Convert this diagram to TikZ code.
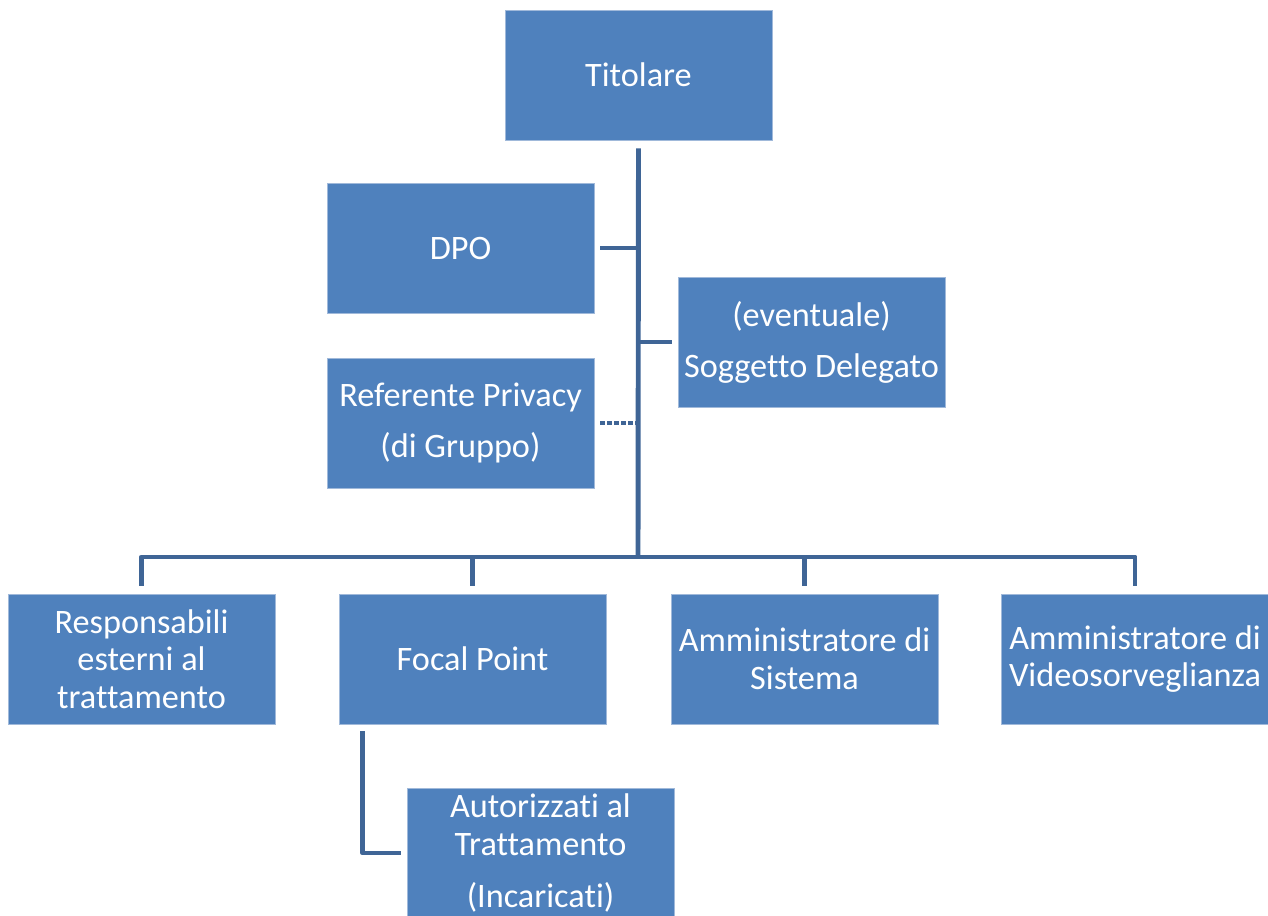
\documentclass[tikz,border=0pt]{standalone}
\usepackage{fontspec}
\setmainfont{Carlito}[Ligatures={NoCommon}]
\usetikzlibrary{positioning}
\definecolor{boxfill}{RGB}{79,129,189}
\definecolor{boxline}{RGB}{160,185,218}
\definecolor{linkcol}{RGB}{63,101,150}
\tikzset{every role/.style={rectangle, fill=boxfill, draw=boxline, line width=0.4pt,
    minimum width=5.34cm, minimum height=2.6cm, inner sep=0pt, align=center,
    text=white, font=\fontsize{19.5}{21.5}\selectfont},
  link/.style={draw=linkcol, line width=2.8pt, line join=round}}

\begin{document}
\begin{tikzpicture}[x=0.02cm, y=-0.02cm] % one unit = one pixel of the reference
  \useasboundingbox (0,0) rectangle (1268,916);
  \node[every role] (tit) at (638.5,75) {Titolare};
  \node[every role] (dpo) at (460.5,248) {DPO};
  \node[every role] (sog) at (811.5,342) {(eventuale)\\[7.5pt] Soggetto Delegato};
  \node[every role] (ref) at (460.5,423) {Referente Privacy\\[7.5pt] (di Gruppo)};
  % bottom row
  \node[every role] (resp) at (141.5,659) {Responsabili\\ esterni al\\ trattamento};
  \node[every role] (foc) at (472.5,659) {Focal Point};
  \node[every role] (asis) at (804.5,659) {Amministratore di\\ Sistema};
  \node[every role] (avid) at (1135,659) {Amministratore di\\ Videosorveglianza};
  \node[every role] (aut) at (540.5,853) {Autorizzati al\\ Trattamento\\[8.5pt] (Incaricati)};
  \coordinate (hub) at (638,557);
  \draw[link, shorten <=0.16cm] (tit.south) -- (hub);
  \draw[link, shorten <=0.12cm] (dpo.east) -- (dpo.east -| hub);
  \draw[link, shorten <=0.12cm] (sog.west) -- (sog.west -| hub);
  \draw[link, line width=2.4pt, dash pattern=on 2.8pt off 1.2pt, shorten <=0.12cm] (ref.east) -- (ref.east -| hub);
  \foreach \b in {resp,foc,asis,avid}
    \draw[link, shorten >=0.16cm] (hub) -| (\b.north);
  \draw[link, shorten <=0.14cm, shorten >=0.12cm] ([xshift=0.48cm]foc.south west) |- (aut.west);
\end{tikzpicture}
\end{document}
